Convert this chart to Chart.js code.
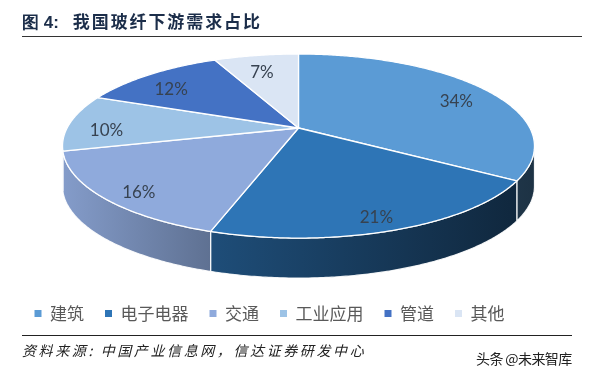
<!DOCTYPE html>
<html><head><meta charset="utf-8">
<script src="https://cdn.jsdelivr.net/npm/chart.js@4.4.1/dist/chart.umd.min.js"></script>
<style>
html,body{margin:0;padding:0;background:#fff;}
#wrap{position:relative;width:595px;height:376px;overflow:hidden;font-family:"Noto Sans CJK SC",sans-serif;}
#c{position:absolute;left:0;top:0;}
.title{position:absolute;left:22px;top:8px;font-size:17px;font-weight:700;color:#1c2e4a;white-space:nowrap;letter-spacing:1.9px;}
.title .num{font-family:"Liberation Sans",Arial,sans-serif;margin-right:14px;letter-spacing:0;}
.rule1{position:absolute;left:22px;top:36px;width:560px;height:0;border-top:1.5px solid #333;}
.rule2{position:absolute;left:22px;top:335px;width:550px;height:0;border-top:1.2px solid #222;}
.src{position:absolute;left:22px;top:340px;font-size:14px;font-style:italic;color:#222;white-space:nowrap;letter-spacing:2.6px;}
.wm{position:absolute;left:476px;top:348px;font-size:14px;color:#222;white-space:nowrap;letter-spacing:-0.6px;}
</style></head>
<body>
<div id="wrap">
  <canvas id="c" width="595" height="376"></canvas>
  <div class="title"><span class="num">图 4:</span>我国玻纤下游需求占比</div>
  <div class="rule1"></div>
  <div class="rule2"></div>
  <div class="src">资料来源: 中国产业信息网，信达证券研发中心</div>
  <div class="wm">头条 @未来智库</div>
</div>
<script>
const categories = ['建筑', '电子电器', '交通', '工业应用', '管道', '其他'];
const shares = [34, 21, 16, 10, 12, 7];
const percentLabels = ['34%', '21%', '16%', '10%', '12%', '7%'];
const topColors = ['#5B9BD5', '#2E75B6', '#8FAADC', '#9DC3E6', '#4472C4', '#DAE5F4'];

function shade(hex, f) {
  const n = parseInt(hex.slice(1), 16);
  const r = Math.round(((n >> 16) & 255) * f), g = Math.round(((n >> 8) & 255) * f), b = Math.round((n & 255) * f);
  return `rgb(${r},${g},${b})`;
}

const pie3d = {
  id: 'pie3d',
  beforeDatasetsDraw(chart) {
    const ctx = chart.ctx;
    const meta = chart.getDatasetMeta(0);
    const o = chart.options.plugins.pie3d;
    const { cx, cy, A, B, k, depth } = o;
    const P = (t, f = 1) => {
      const u = f * Math.cos(t), v = f * Math.sin(t);
      const w = 1 - k * v;
      return [cx + A * u / w, cy + B * v / w];
    };
    const t1 = Math.asin(k), t2 = Math.PI - t1;
    const steps = (a, b) => Math.max(4, Math.ceil((b - a) / 0.01));
    ctx.save();
    // side walls
    meta.data.forEach((arc, i) => {
      const a = Math.max(arc.startAngle, t1), b = Math.min(arc.endAngle, t2);
      if (a >= b) return;
      const n = steps(a, b);
      ctx.beginPath();
      for (let j = 0; j <= n; j++) {
        const p = P(a + (b - a) * j / n);
        j === 0 ? ctx.moveTo(p[0], p[1]) : ctx.lineTo(p[0], p[1]);
      }
      for (let j = n; j >= 0; j--) {
        const p = P(a + (b - a) * j / n);
        ctx.lineTo(p[0], p[1] + depth);
      }
      ctx.closePath();
      const g = ctx.createLinearGradient(cx - A * 1.02, 0, cx + A * 1.02, 0);
      g.addColorStop(0, shade(topColors[i], 0.92));
      g.addColorStop(0.32, shade(topColors[i], 0.66));
      g.addColorStop(1, shade(topColors[i], 0.32));
      ctx.fillStyle = g;
      ctx.fill();
      ctx.strokeStyle = 'rgba(255,255,255,0.9)';
      ctx.lineWidth = 1.2;
      ctx.stroke();
    });
    // top face
    meta.data.forEach((arc, i) => {
      const a = arc.startAngle, b = arc.endAngle;
      const n = steps(a, b);
      ctx.beginPath();
      ctx.moveTo(cx, cy);
      for (let j = 0; j <= n; j++) {
        const p = P(a + (b - a) * j / n);
        ctx.lineTo(p[0], p[1]);
      }
      ctx.closePath();
      ctx.fillStyle = topColors[i];
      ctx.fill();
      ctx.strokeStyle = '#ffffff';
      ctx.lineWidth = 1.3;
      ctx.lineJoin = 'round';
      ctx.stroke();
    });
    // labels
    ctx.font = '17px Lato, "Open Sans", sans-serif';
    ctx.fillStyle = '#374250';
    ctx.textAlign = 'center';
    ctx.textBaseline = 'middle';
    meta.data.forEach((arc, i) => {
      const m = (arc.startAngle + arc.endAngle) / 2;
      const p = P(m, o.labelFrac);
      ctx.fillText(percentLabels[i], p[0], p[1] + o.labelDy);
    });
    ctx.restore();
    return false;
  }
};

new Chart(document.getElementById('c'), {
  type: 'pie',
  data: {
    labels: categories,
    datasets: [{ data: shares, backgroundColor: topColors, borderWidth: 0 }]
  },
  options: {
    responsive: false,
    animation: false,
    layout: { padding: { bottom: 44, right: 56 } },
    plugins: {
      pie3d: { cx: 298.5, cy: 128, A: 231.4, B: 88.5, k: 0.196, depth: 40, labelFrac: 0.84, labelDy: 7 },
      tooltip: { enabled: false },
      legend: {
        position: 'bottom',
        labels: {
          boxWidth: 7, boxHeight: 7, padding: 21, color: '#595959',
          font: { family: '"Noto Sans CJK SC"', size: 17 }
        }
      }
    }
  },
  plugins: [pie3d]
});
</script>
</body></html>
